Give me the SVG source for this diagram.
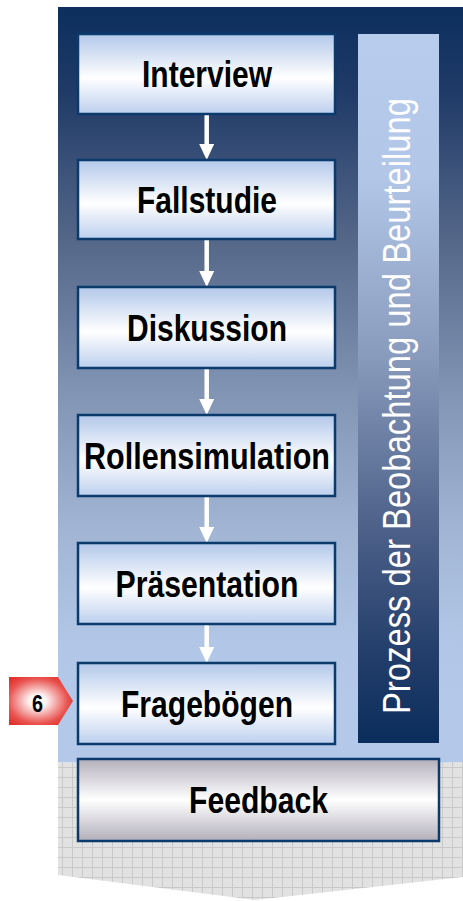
<svg xmlns="http://www.w3.org/2000/svg" width="463" height="901" viewBox="0 0 463 901">
  <defs>
    <!-- backdrop: dark navy fading to pale blue -->
    <linearGradient id="bgBlue" x1="0" y1="7" x2="0" y2="700" gradientUnits="userSpaceOnUse">
      <stop offset="0" stop-color="#0c2f5e"/>
      <stop offset="0.12" stop-color="#1f3a67"/>
      <stop offset="0.33" stop-color="#536688"/>
      <stop offset="0.55" stop-color="#8193b3"/>
      <stop offset="0.75" stop-color="#a1b4d4"/>
      <stop offset="0.92" stop-color="#b2c7e7"/>
      <stop offset="1" stop-color="#b4c9ea"/>
    </linearGradient>
    <!-- side bar: pale blue at the top, navy at the bottom -->
    <linearGradient id="sideBar" x1="0" y1="34" x2="0" y2="743" gradientUnits="userSpaceOnUse">
      <stop offset="0" stop-color="#b8cdee"/>
      <stop offset="0.2" stop-color="#b2c7e8"/>
      <stop offset="0.45" stop-color="#8a9cbd"/>
      <stop offset="0.7" stop-color="#4c6088"/>
      <stop offset="0.88" stop-color="#223d6a"/>
      <stop offset="1" stop-color="#0a2d5c"/>
    </linearGradient>
    <linearGradient id="boxFill" x1="0" y1="0" x2="0" y2="1">
      <stop offset="0" stop-color="#b3c8ea"/>
      <stop offset="0.55" stop-color="#ffffff"/>
      <stop offset="1" stop-color="#bccfee"/>
    </linearGradient>
    <linearGradient id="grayFill" x1="0" y1="0" x2="0" y2="1">
      <stop offset="0" stop-color="#b4b0bc"/>
      <stop offset="0.5" stop-color="#ffffff"/>
      <stop offset="1" stop-color="#b2afba"/>
    </linearGradient>
    <radialGradient id="badgeFill" cx="0.45" cy="0.5" r="0.62">
      <stop offset="0" stop-color="#ffffff"/>
      <stop offset="0.22" stop-color="#fdf2f2"/>
      <stop offset="0.75" stop-color="#e95450"/>
      <stop offset="1" stop-color="#e2302b"/>
    </radialGradient>
    <!-- fine grid for the lower chevron -->
    <pattern id="grid" x="2" y="7" width="10" height="10" patternUnits="userSpaceOnUse">
      <rect width="10" height="10" fill="#e2e2e2"/>
      <path d="M0,0.5 H10 M0.5,0 V10" stroke="#c9c9c9" stroke-width="1" fill="none"/>
    </pattern>
    <marker id="head" viewBox="0 -8 16 16" refX="0" refY="0" markerWidth="16" markerHeight="16" markerUnits="userSpaceOnUse" orient="auto">
      <path d="M0,-7.5 L16,0 L0,7.5 Z" fill="#ffffff"/>
    </marker>
    <style>
      .box { fill: url(#boxFill); stroke: #0b3a6d; stroke-width: 2.5; }
      .gray { fill: url(#grayFill); stroke: #0b3a6d; stroke-width: 2.5; }
      .lbl { font-family: 'Liberation Sans Narrow', 'Liberation Sans', Arial, sans-serif; font-weight: bold; font-size: 36px; fill: #000000; text-anchor: middle; }
      .side { font-family: 'Liberation Sans Narrow', 'Liberation Sans', Arial, sans-serif; font-size: 39px; fill: #ffffff; text-anchor: middle; }
      .conn line { stroke: #ffffff; stroke-width: 4.5; marker-end: url(#head); }
    </style>
  </defs>

  <!-- backdrop -->
  <g id="backdrop">
    <path d="M58,875 L58,762 L250,768 L463,762 L463,877 L255,900 Z" fill="url(#grid)"/>
    <path d="M58,7 H463 V762 L250,768 L58,762 Z" fill="url(#bgBlue)"/>
  </g>

  <!-- vertical process bar -->
  <g id="process-bar">
    <rect x="358" y="34" width="81" height="709" fill="url(#sideBar)"/>
    <text class="side" transform="translate(410,406) rotate(-90)" x="0" y="0" textLength="616" lengthAdjust="spacingAndGlyphs">Prozess der Beobachtung und Beurteilung</text>
  </g>

  <!-- connectors -->
  <g id="connectors" class="conn">
    <line x1="206.7" y1="115" x2="206.7" y2="144"/>
    <line x1="206.7" y1="240" x2="206.7" y2="271"/>
    <line x1="206.7" y1="369" x2="206.7" y2="399"/>
    <line x1="206.7" y1="497" x2="206.7" y2="527"/>
    <line x1="206.7" y1="625" x2="206.7" y2="647"/>
  </g>

  <g id="interview">
    <rect class="box" x="78" y="34" width="257" height="80"/>
    <text class="lbl" x="207" y="87" textLength="130" lengthAdjust="spacingAndGlyphs">Interview</text>
  </g>
  <g id="fallstudie">
    <rect class="box" x="78" y="160" width="257" height="79"/>
    <text class="lbl" x="207" y="212.5" textLength="140" lengthAdjust="spacingAndGlyphs">Fallstudie</text>
  </g>
  <g id="diskussion">
    <rect class="box" x="78" y="287" width="257" height="81"/>
    <text class="lbl" x="207" y="340.5" textLength="160" lengthAdjust="spacingAndGlyphs">Diskussion</text>
  </g>
  <g id="rollensimulation">
    <rect class="box" x="78" y="415" width="257" height="81"/>
    <text class="lbl" x="207" y="468.5" textLength="246" lengthAdjust="spacingAndGlyphs">Rollensimulation</text>
  </g>
  <g id="praesentation">
    <rect class="box" x="78" y="543" width="257" height="81"/>
    <text class="lbl" x="207" y="596.5" textLength="183" lengthAdjust="spacingAndGlyphs">Präsentation</text>
  </g>
  <g id="frageboegen">
    <rect class="box" x="78" y="663" width="257" height="81"/>
    <text class="lbl" x="207" y="716.5" textLength="172" lengthAdjust="spacingAndGlyphs">Fragebögen</text>
  </g>
  <g id="feedback">
    <rect class="gray" x="78" y="759" width="361" height="82"/>
    <text class="lbl" x="258.5" y="813" textLength="139" lengthAdjust="spacingAndGlyphs">Feedback</text>
  </g>

  <!-- step marker -->
  <g id="badge-6">
    <path d="M9,677 H58 L73,701 L58,725 H9 Z" fill="url(#badgeFill)"/>
    <text x="37.5" y="712" font-family="'Liberation Sans Narrow', 'Liberation Sans', Arial, sans-serif" font-weight="bold" font-size="23" text-anchor="middle" textLength="11" lengthAdjust="spacingAndGlyphs" fill="#000000">6</text>
  </g>
</svg>
